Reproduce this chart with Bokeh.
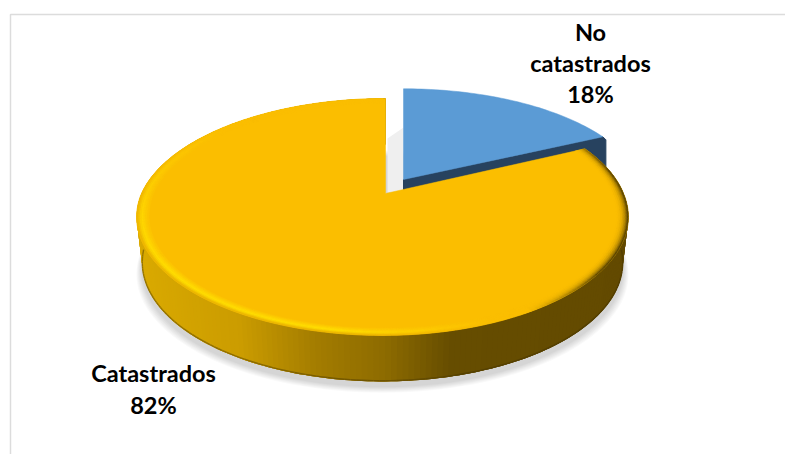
import math
from bokeh.plotting import figure
from bokeh.models import Range1d
from bokeh.core.properties import value
from bokeh.embed import file_html
from bokeh.resources import INLINE

categories = ["No catastrados", "Catastrados"]
values = [18, 82]
percent_labels = ["18%", "82%"]
slice_colors = ["#5B9BD5", "#FBBE00"]
slice_dark = "#27425F"

W, H = 785, 454
p = figure(width=W, height=H, output_backend="svg", toolbar_location=None,
           x_range=Range1d(0, W), y_range=Range1d(H, 0), min_border=0,
           outline_line_color=None, background_fill_color="white", border_fill_color="white")
p.axis.visible = False
p.grid.visible = False

# projection of the tilted disc
EX, CY = 382.0, 193.0
AX = 385.0
RX, RY, K = 241.0, 113.8, 0.198
DEPTH, SHRINK = 46.0, 0.977


def pt(a, r=1.0, ox=0.0, oy=0.0, ys=1.0):
    s, c = math.sin(a), math.cos(a)
    w = 1 + K * s
    skew = (AX - EX) * (1 - r * (1 - max(0.0, s)))
    return EX + skew + ox + r * RX * c / w, CY + oy - ys * r * RY * s / w


def lower(x, y):
    return EX + (x - EX) * SHRINK, y + DEPTH


def mix(c1, c2, t):
    t = max(0.0, min(1.0, t))
    a = [int(c1[i:i + 2], 16) for i in (1, 3, 5)]
    b = [int(c2[i:i + 2], 16) for i in (1, 3, 5)]
    return "#%02x%02x%02x" % tuple(round(u + (v - u) * t) for u, v in zip(a, b))


def ramp(stops, x):
    if x <= stops[0][0]:
        return stops[0][1]
    for (x0, c0), (x1, c1) in zip(stops, stops[1:]):
        if x <= x1:
            return mix(c0, c1, (x - x0) / (x1 - x0))
    return stops[-1][1]


# slice angles from the values, clockwise from the top
angles = []
start = math.pi / 2
for v in values:
    end = start - 2 * math.pi * v / sum(values)
    angles.append((start, end))
    start = end
blue_a, yellow_a = angles


def arc(a0, a1, n):
    return [a0 + (a1 - a0) * i / n for i in range(n + 1)]


# soft shadow under the disc
full = arc(0, 2 * math.pi, 160)
for i in range(7):
    g = 1.0 + 0.0035 * (7 - i)
    xs, ys = [], []
    for a in full:
        x, y = pt(a)
        x, y = lower(x, y)
        xs.append(EX + (x - EX) * g)
        ys.append(y + 5 + (7 - i) * 0.9)
    p.patch(xs, ys, fill_color="#000000", fill_alpha=0.022, line_color=None)

# shadow in the gap between the slices
p.patch([387, 403, 403, 387], [192, 192, 127, 138], fill_color="#EFEFEF", line_color=None)

# blue slice: wall then top face
BO = (18.0, -14.0, 0.955)
rx_b, ry_b = pt(blue_a[1], 1.0, BO[0], BO[1], BO[2])
ax_b, ay_b = AX + BO[0], CY + BO[1]
p.patch([ax_b, rx_b, rx_b + 3, rx_b + 3, ax_b], [ay_b, ry_b, ry_b + 3, ry_b + 38, ay_b + 46],
        fill_color=slice_dark, line_color=slice_dark)
bx, by = [ax_b], [ay_b]
for a in arc(blue_a[0], blue_a[1], 50):
    x, y = pt(a, 1.0, BO[0], BO[1], BO[2])
    bx.append(x)
    by.append(y)
p.patch(bx, by, fill_color=slice_colors[0], line_color=slice_colors[0], line_width=0.5)

# yellow slice: outer wall with a left-to-right shade (overlapping strips, no seams)
side_stops = [(130, "#DBAB00"), (250, "#CB9C00"), (330, "#A37C00"), (400, "#8D6B00"),
              (465, "#664D00"), (640, "#634A00")]
sx, sy, sc = [], [], []
seq = arc(yellow_a[0], yellow_a[1], 260)
for i in range(len(seq) - 1):
    a_end = seq[min(i + 3, len(seq) - 1)]
    mid = arc(seq[i], a_end, 3)
    top = [pt(a) for a in mid]
    bot = [lower(x, y) for x, y in top]
    sx.append([q[0] for q in top] + [q[0] for q in reversed(bot)])
    sy.append([q[1] for q in top] + [q[1] for q in reversed(bot)])
    sc.append(ramp(side_stops, top[0][0]))
order = sorted(range(len(sx)), key=lambda i: sx[i][0])
p.patches([sx[i] for i in order], [sy[i] for i in order],
          fill_color=[sc[i] for i in order], line_color=None)

# darker lower lip of the wall
lip_x, lip_y, lip_c = [], [], []
for a0, a1 in zip(seq, seq[1:]):
    if math.sin((a0 + a1) / 2) < -0.1:
        q0 = lower(*pt(a0))
        q1 = lower(*pt(a1))
        lip_x.append([q0[0], q1[0]])
        lip_y.append([q0[1] - 0.7, q1[1] - 0.7])
        lip_c.append(mix(ramp(side_stops, q0[0]), "#3f3000", 0.45))
p.multi_line(lip_x, lip_y, line_color=lip_c, line_width=1.4)

# yellow slice: top face
fx, fy = [AX], [CY]
for a in seq:
    x, y = pt(a)
    fx.append(x)
    fy.append(y)
p.patch(fx, fy, fill_color=slice_colors[1], line_color=slice_colors[1], line_width=0.5)


# rim bevel: a bright band on the lower left, dark outer edge on the right
def bright_amount(d):
    if d < 140 or d > 292:
        return 0.0
    if d < 190:
        return 0.75 * (d - 140) / 50
    if d < 215:
        return 0.75 + 0.25 * (d - 190) / 25
    if d < 262:
        return 1.0
    return (292 - d) / 30


def dark_amount(d):
    if 262 < d < 300:
        return 0.0
    if d >= 300:
        return min(1.0, (d - 300) / 22)
    if d < 12:
        return 1.0
    if d < 45:
        return (45 - d) / 33
    return 0.0


def bevel_color(a, t):
    d = math.degrees(a) % 360
    b = bright_amount(d)
    dk = dark_amount(d)
    c = slice_colors[1]
    if b > 0:
        hi = mix(c, "#FFE000", b)
        low = mix(c, "#EBB600", b)
        c = mix(c, hi, t / 0.62) if t < 0.62 else mix(hi, low, (t - 0.62) / 0.38)
    if dk > 0:
        c = mix(c, "#5E4700", dk * t ** 2.6)
    return c


rings = [0.95, 0.958, 0.966, 0.974, 0.981, 0.988, 0.994, 1.0]
rx_, ry_, rc_ = [], [], []
bevel = arc(yellow_a[0], yellow_a[1] + 0.012, 220)
for j, (r0, r1) in enumerate(zip(rings, rings[1:])):
    t = (j + 1) / (len(rings) - 1)
    for a0, a1 in zip(bevel, bevel[1:]):
        x0, y0 = pt(a0, r0)
        x1, y1 = pt(a1, r0)
        x2, y2 = pt(a1, r1)
        x3, y3 = pt(a0, r1)
        rx_.append([x0, x1, x2, x3])
        ry_.append([y0, y1, y2, y3])
        rc_.append(bevel_color((a0 + a1) / 2, t))
p.patches(rx_, ry_, fill_color=rc_, line_color=rc_, line_width=0.4)

# frame of the chart
p.line([10, 10, W], [H, 14, 14], line_color="#DCDCDC", line_width=1.5)

# data labels
label_lines = [
    (590, [31, 62, 93], ["No", categories[0].split(" ")[1], percent_labels[0]]),
    (153, [372, 404], [categories[1], percent_labels[1]]),
]
for lx, lys, texts in label_lines:
    p.text([lx] * len(texts), lys, text=texts, text_align="center", text_baseline="middle",
           text_font=value("Lato"), text_font_style="bold", text_font_size="23.5px", text_color="#000000")

open("out.html", "w").write(file_html(p, INLINE))
